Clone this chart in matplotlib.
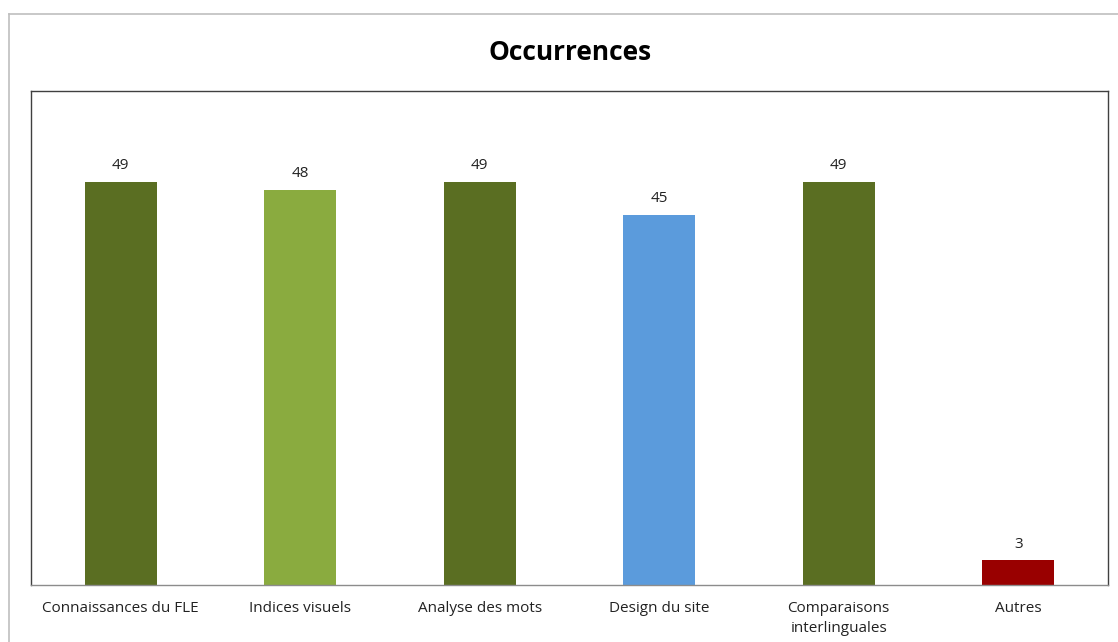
import matplotlib

matplotlib.use("Agg")
import matplotlib.pyplot as plt
from matplotlib.lines import Line2D

categories = [
    "Connaissances du FLE",
    "Indices visuels",
    "Analyse des mots",
    "Design du site",
    "Comparaisons\ninterlinguales",
    "Autres",
]
occurrences = [49, 48, 49, 45, 49, 3]
bar_colors = ["#5a6e22", "#8aab3f", "#5a6e22", "#5b9bdc", "#5a6e22", "#990000"]

plt.rcParams["font.family"] = ["Open Sans", "DejaVu Sans"]

fig = plt.figure(figsize=(11.18, 6.42), dpi=100)
ax = fig.add_axes([31 / 1118, 1 - 585 / 642, (1108 - 31) / 1118, (585 - 91) / 642])

x = range(len(categories))
bars = ax.bar(x, occurrences, width=0.4, color=bar_colors, zorder=2)
for rect, val in zip(bars, occurrences):
    ax.annotate(
        str(val),
        (rect.get_x() + rect.get_width() / 2, rect.get_height()),
        xytext=(0, 6),
        textcoords="offset points",
        ha="center",
        va="bottom",
        fontsize=11,
        color="#222222",
    )

ax.set_xlim(-0.5, len(categories) - 0.5)
ax.set_ylim(0, 60)
ax.set_yticks([])
ax.set_xticks(list(x))
ax.set_xticklabels(categories, fontsize=11, color="#222222", linespacing=1.5)
ax.tick_params(axis="x", length=0, pad=11.5)
for side in ["left", "top", "right"]:
    ax.spines[side].set_color("#404040")
    ax.spines[side].set_linewidth(1.0)
ax.spines["bottom"].set_color("#8c8c8c")
ax.spines["bottom"].set_linewidth(1.0)

fig.text(570 / 1118, 1 - 52 / 642, "Occurrences", ha="center", va="center",
         fontsize=19, fontweight="bold", color="black")

# outer chart frame
fx, fy = 8.5 / 1118, 1 - 13.5 / 642
fig.add_artist(Line2D([fx, fx], [0, fy], transform=fig.transFigure, color="#bfbfbf", lw=1.2))
fig.add_artist(Line2D([fx, 1], [fy, fy], transform=fig.transFigure, color="#bfbfbf", lw=1.2))

fig.savefig("out.png", dpi=100)
